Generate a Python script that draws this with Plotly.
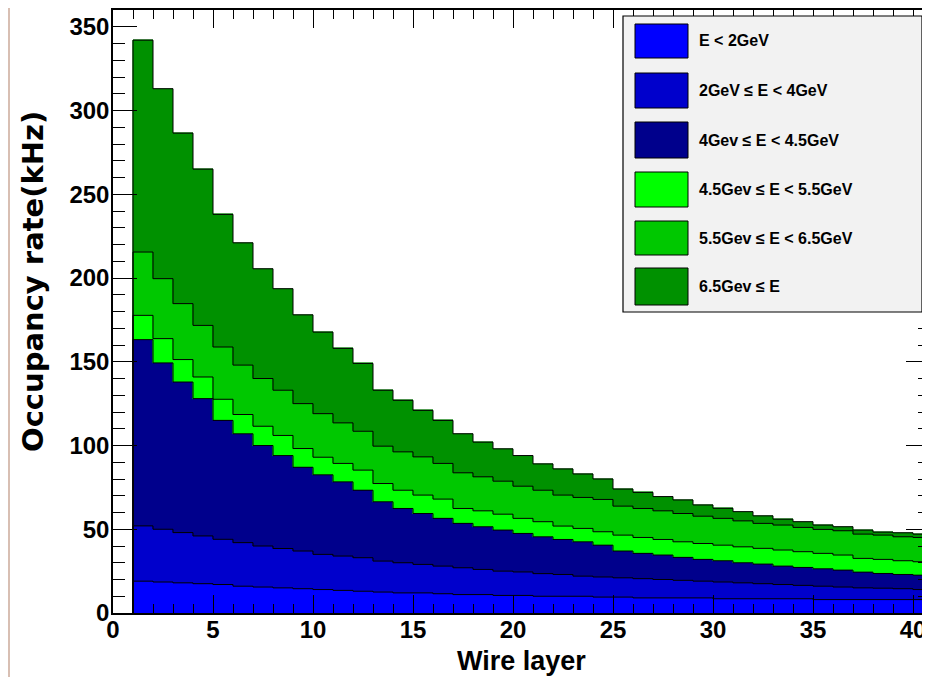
import plotly.graph_objects as go

# ---------------- data ----------------
layers = list(range(1, 41))

series_names = [
    "E < 2GeV",
    "2GeV \u2264 E < 4GeV",
    "4Gev \u2264 E < 4.5GeV",
    "4.5Gev \u2264 E < 5.5GeV",
    "5.5Gev \u2264 E < 6.5GeV",
    "6.5Gev \u2264 E",
]

e_lt_2 = [19, 18.5, 18, 17.5, 17, 16, 15.5, 15, 14.5, 14,
          13.5, 13, 12.5, 12, 12, 11.5, 11, 11, 10.5, 10.5,
          10, 10, 10, 9.5, 9.5, 9, 9, 9, 9, 8.5,
          8.5, 8.5, 8.5, 8.5, 8, 8, 8, 8, 8, 8]
e_2_4 = [33, 31.5, 30, 28.5, 27, 26, 24.5, 23.5, 22.5, 21,
         20.5, 20, 18.5, 18, 17, 16.5, 16, 15, 14.5, 14,
         13.5, 13, 12, 12, 11.5, 11.5, 11, 10.5, 10, 10,
         9.5, 9, 8.5, 8, 8, 7.5, 7, 6.8, 6.5, 6]
e_4_45 = [111.2, 99.3, 89.9, 82, 71, 65, 60, 55.5, 50, 47.5,
          44.3, 40.3, 35.4, 32.4, 30.4, 28.5, 26.5, 25.5, 24.5, 23,
          22, 20.9, 20.5, 19, 16, 15.1, 14.6, 13.7, 13, 12.7,
          12, 11.7, 11, 10.7, 10.4, 10.1, 9.4, 8.8, 8.5, 8.6]
e_45_55 = [14.5, 14.5, 13.4, 12.9, 12.6, 11.5, 11.5, 12, 11.2, 10.5,
           11, 12, 10.9, 10.9, 11, 11.5, 8.9, 9.5, 9.5, 9,
           9, 8, 8, 8, 9.5, 9.5, 9.3, 9.3, 9.5, 9.3,
           9.5, 9.4, 9.6, 9.4, 9.2, 9, 8.2, 8.4, 8.2, 8]
e_55_65 = [37.8, 35.8, 33.4, 30.8, 31.2, 29.5, 28.5, 27, 26.8, 26,
           24.2, 23.2, 22.3, 22.9, 22.8, 21.3, 21.3, 20.3, 19.7, 19.2,
           18.8, 18.5, 18.5, 19.3, 17.3, 17.3, 17.1, 16.9, 16.3, 16,
           15.5, 14.9, 14.9, 14.5, 14.3, 14.5, 14.5, 14.5, 14.3, 14.5]
e_ge_65 = [126.5, 113.4, 101.8, 93.3, 79.2, 73, 65.5, 60.6, 53, 48.7,
           44.5, 40.5, 33.4, 30.8, 27.8, 25.7, 23.3, 20.7, 19.3, 18.3,
           15.7, 15.6, 14, 12.2, 10.2, 9.6, 8.5, 8.1, 6.7, 6,
           5.5, 4.5, 3.5, 3.4, 2.6, 2.4, 2.4, 1.8, 2.4, 2]

x_ticks = [0, 5, 10, 15, 20, 25, 30, 35, 40]
y_ticks = [0, 50, 100, 150, 200, 250, 300, 350]
x_title = "Wire layer"
y_title = "Occupancy rate(kHz)"

# ---------------- styling ----------------
colors = ["#0000ff", "#0000cc", "#00008c", "#00ff00", "#00c800", "#009100"]
all_series = [e_lt_2, e_2_4, e_4_45, e_45_55, e_55_65, e_ge_65]

# the page body has an 8 px margin, so the figure is offset by (8, 8) in the window
OFF = 8
W, H = 930, 677
L, R, T, B = 113 - OFF, OFF, 10 - OFF, H - (613 - OFF)
PW, PH = W - L - R, H - T - B
FONT = "Liberation Sans, Arial, sans-serif"


def px_x(wx):  # window pixel -> paper
    return (wx - OFF - L) / PW


def px_y(wy):
    return (H - B - (wy - OFF)) / PH


fig = go.Figure()

centers = [l + 0.5 for l in layers]
for name, vals, c in zip(series_names, all_series, colors):
    fig.add_trace(go.Bar(
        x=centers, y=vals, width=1, name=name,
        marker=dict(color=c, line=dict(color=c, width=0.6)),
        showlegend=False, hoverinfo="skip",
    ))

# histogram outlines (cumulative tops drawn as steps)
cum = [0.0] * len(layers)
for vals in all_series:
    cum = [a + b for a, b in zip(cum, vals)]
    xs = [layers[0]] + layers + [layers[-1] + 1]
    ys = [0] + cum + [cum[-1]]
    fig.add_trace(go.Scatter(
        x=xs, y=ys, mode="lines", line=dict(color="black", width=1, shape="hv"),
        showlegend=False, hoverinfo="skip",
    ))

bold = dict(family=FONT, size=24, color="black", weight="bold")

fig.update_layout(
    width=W, height=H,
    margin=dict(l=L, r=R, t=T, b=B, pad=0, autoexpand=False),
    paper_bgcolor="white", plot_bgcolor="white",
    barmode="stack", bargap=0,
    xaxis=dict(
        range=[0, 40.85], tickmode="array", tickvals=x_ticks, automargin=False,
        ticks="inside", ticklen=18, tickwidth=1, tickcolor="black",
        minor=dict(dtick=1, tick0=0, ticks="inside", ticklen=9, tickcolor="black", tickwidth=1),
        showline=True, linecolor="black", linewidth=1.5, mirror="allticks",
        showgrid=False, zeroline=False, tickfont=bold, ticklabelstandoff=-6,
    ),
    yaxis=dict(
        range=[0, 360], tickmode="array", tickvals=y_ticks, automargin=False,
        ticks="inside", ticklen=24, tickwidth=1, tickcolor="black",
        minor=dict(dtick=10, tick0=0, ticks="inside", ticklen=12, tickcolor="black", tickwidth=1),
        showline=True, linecolor="black", linewidth=1.5, mirror="allticks",
        showgrid=False, zeroline=False, tickfont=bold, ticklabelstandoff=-3,
    ),
)

shapes = []
# slide edge decoration on the far left (only the part inside the figure is visible)
shapes.append(dict(type="rect", xref="paper", yref="paper",
                   x0=px_x(OFF), x1=px_x(10), y0=px_y(H + OFF), y1=px_y(OFF),
                   fillcolor="#d8bfb3", line=dict(width=0), layer="above"))

annotations = [
    dict(xref="paper", yref="paper", x=px_x(521), y=px_y(661), text=x_title,
         showarrow=False, xanchor="center", yanchor="middle",
         font=dict(family=FONT, size=27, color="black", weight="bold")),
    dict(xref="paper", yref="paper", x=px_x(33), y=px_y(282), text=y_title,
         showarrow=False, xanchor="center", yanchor="middle", textangle=-90,
         font=dict(family="DejaVu Sans, sans-serif", size=29, color="black", weight="bold")),
]

# legend box
shapes.append(dict(type="rect", xref="paper", yref="paper",
                   x0=px_x(623), x1=px_x(922), y0=px_y(312), y1=px_y(16),
                   fillcolor="#f2f2f2", line=dict(color="black", width=1.2), layer="above"))
rows = [(24, 58), (73, 108), (122, 158), (172, 207), (221, 255), (268, 305)]
for (top, bot), c, name in zip(rows, colors, series_names):
    shapes.append(dict(type="rect", xref="paper", yref="paper",
                       x0=px_x(635), x1=px_x(688), y0=px_y(bot), y1=px_y(top),
                       fillcolor=c, line=dict(color="black", width=1), layer="above"))
    annotations.append(dict(xref="paper", yref="paper", x=px_x(697), y=px_y((top + bot) / 2),
                            text=name, showarrow=False, xanchor="left", yanchor="middle",
                            font=dict(family=FONT, size=16, color="black", weight="bold")))

fig.update_layout(shapes=shapes, annotations=annotations)

fig.write_html("out.html")
